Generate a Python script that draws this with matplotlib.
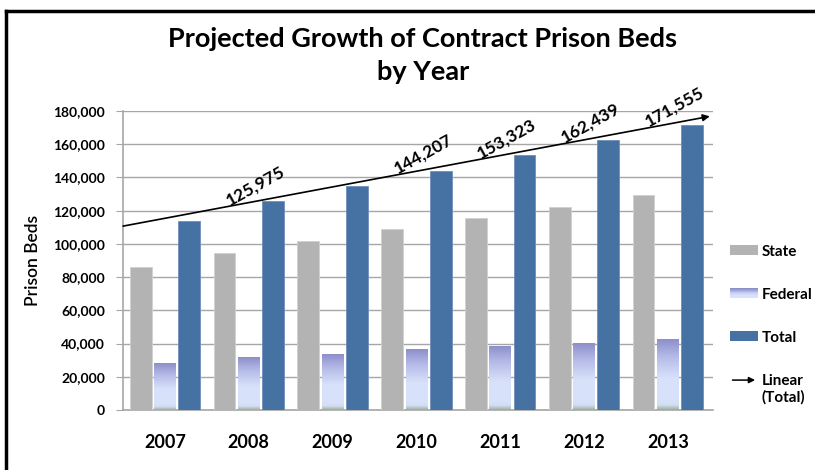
import numpy as np
import matplotlib.pyplot as plt
from matplotlib.colors import LinearSegmentedColormap
from matplotlib.patches import Patch, Rectangle, FancyArrowPatch
from matplotlib.lines import Line2D
from matplotlib.legend_handler import HandlerBase

plt.rcParams['font.family'] = ['Lato', 'DejaVu Sans']

years = ['2007', '2008', '2009', '2010', '2011', '2012', '2013']
state = [86000, 94700, 101700, 108800, 115400, 122400, 129400]
federal = [28300, 31500, 33700, 36500, 38500, 40300, 42500]
total = [113800, 125975, 135091, 144207, 153323, 162439, 171555]
labeled_years = ['2008', '2010', '2011', '2012', '2013']

STATE_C = '#B3B3B3'
TOTAL_C = '#4671A3'
fed_cmap = LinearSegmentedColormap.from_list(
    'fed', [(0.0, '#9BAF9B'), (0.07, '#D3DDF2'), (0.15, '#D9E2FB'),
            (0.45, '#D8E1FA'), (0.75, '#B5BBE8'), (1.0, '#8D8FCA')])


class GradientHandler(HandlerBase):
    def create_artists(self, legend, orig_handle, xdescent, ydescent,
                       width, height, fontsize, trans):
        n = 12
        arts = []
        for k in range(n):
            c = fed_cmap(1 - k / (n - 1) * 0.8)
            r = Rectangle((-xdescent, -ydescent + height * (1 - (k + 1) / n)),
                          width, height / n, facecolor=c, edgecolor='none',
                          transform=trans)
            arts.append(r)
        return arts


class ArrowHandler(HandlerBase):
    def create_artists(self, legend, orig_handle, xdescent, ydescent,
                       width, height, fontsize, trans):
        y = -ydescent + height * 0.5 + fontsize * 0.6
        a = FancyArrowPatch((-xdescent, y), (-xdescent + width, y),
                            arrowstyle='-|>', mutation_scale=9, lw=1.1,
                            color='black', transform=trans)
        return [a]


fig = plt.figure(figsize=(8.15, 4.7), dpi=100)
ax = fig.add_axes([0.151, 0.1277, 0.724, 0.636])

x = np.arange(len(years))
w = 0.26
ax.bar(x - 0.29, state, w, color=STATE_C, edgecolor='#D0D0D0', lw=0.6, zorder=3)
ax.bar(x + 0.29, total, w, color=TOTAL_C, edgecolor='#6F90BC', lw=0.6, zorder=3)

# federal bars with vertical gradient
grad = np.linspace(0, 1, 256).reshape(-1, 1)
for xi, h in zip(x, federal):
    ax.imshow(grad, cmap=fed_cmap, origin='lower', aspect='auto',
              extent=(xi - w / 2, xi + w / 2, 0, h), zorder=3,
              interpolation='bilinear')

# linear trend of total
m, b = np.polyfit(x, total, 1)
x0, x1 = -0.5, len(years) - 0.5
ax.annotate('', xy=(x1, m * x1 + b), xytext=(x0, m * x0 + b),
            arrowprops=dict(arrowstyle='-|>', color='black', lw=1.2,
                            mutation_scale=10, shrinkA=0, shrinkB=0),
            annotation_clip=False, zorder=5)

for yr in labeled_years:
    i = years.index(yr)
    xl = i + 0.08
    ax.text(xl, m * xl + b + 9500, f'{total[i]:,}', rotation=29,
            ha='center', va='center', fontsize=12.5, fontweight='bold',
            rotation_mode='anchor', zorder=6)

ax.set_xlim(x0, x1 + 0.04)
ax.set_ylim(0, 180000)
ax.set_yticks(np.arange(0, 180001, 20000))
ax.set_yticklabels([f'{v:,}' for v in range(0, 180001, 20000)],
                   fontsize=10, fontweight='bold')
ax.set_xticks(x)
ax.set_xticklabels(years, fontsize=13, fontweight='bold')
ax.tick_params(axis='x', length=0, pad=17)
ax.tick_params(axis='y', length=5, color='#A6A6A6', pad=8)
ax.grid(axis='y', color='#A6A6A6', lw=1.0, zorder=0)
ax.set_axisbelow(True)
for s in ['top', 'right']:
    ax.spines[s].set_visible(False)
for s in ['left', 'bottom']:
    ax.spines[s].set_color('#A6A6A6')
    ax.spines[s].set_linewidth(1.2)

ax.set_ylabel('Prison Beds', fontsize=12.5, fontweight='semibold', labelpad=9)

fig.text(0.519, 0.882, 'Projected Growth of Contract Prison Beds\nby Year',
         ha='center', va='center', fontsize=19.5, fontweight='bold',
         linespacing=1.45)

labels = ['State', 'Federal', 'Total', 'Linear\n(Total)']
fig.legend([Patch(facecolor=STATE_C), Rectangle((0, 0), 1, 1),
            Patch(facecolor=TOTAL_C), Line2D([], [])], labels,
           loc='upper left', bbox_to_anchor=(722 / 815, 1 - 237 / 470),
           frameon=False, borderpad=0, handlelength=1.85,
           handleheight=0.65, labelspacing=1.9, handletextpad=0.25,
           prop=dict(size=11, weight='bold'),
           handler_map={Rectangle: GradientHandler(),
                        Line2D: ArrowHandler()})

# frame lines (top and left)
fig.add_artist(Line2D([6 / 815, 1], [1 - 11 / 470] * 2, color='black', lw=2.5))
fig.add_artist(Line2D([6 / 815] * 2, [0, 1 - 11 / 470], color='black', lw=2.5))

fig.savefig('out.png', dpi=100)
